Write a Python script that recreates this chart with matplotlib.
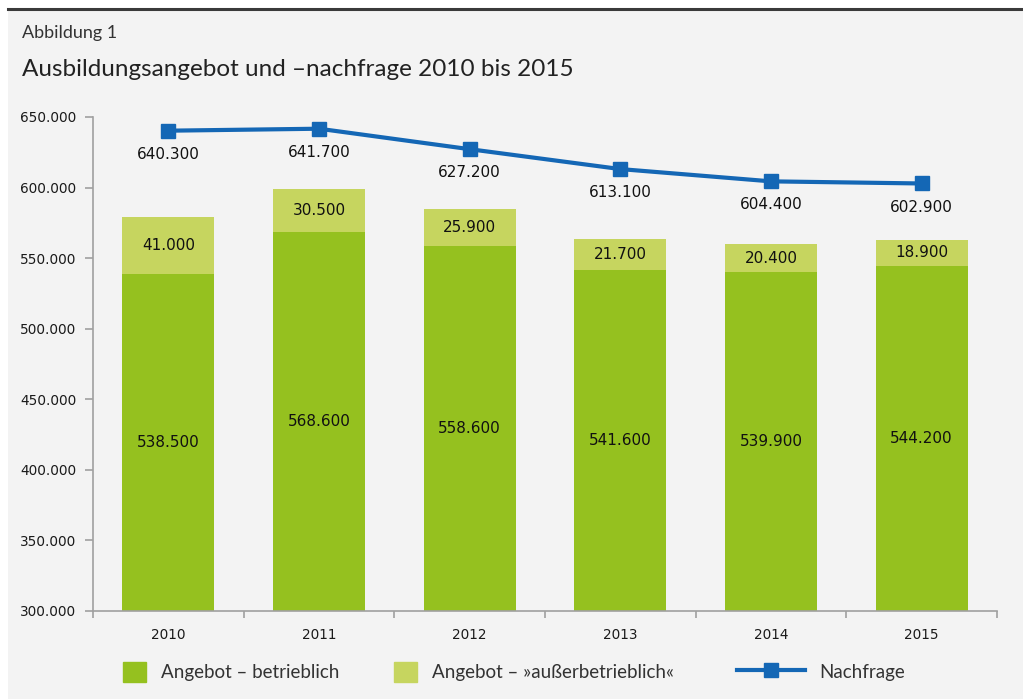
import matplotlib
matplotlib.use("Agg")
import matplotlib.pyplot as plt
from matplotlib.ticker import FuncFormatter
from matplotlib.patches import Rectangle
from matplotlib.lines import Line2D
import numpy as np

jahre = ["2010", "2011", "2012", "2013", "2014", "2015"]
betrieblich = [538500, 568600, 558600, 541600, 539900, 544200]
ausserbetrieblich = [41000, 30500, 25900, 21700, 20400, 18900]
nachfrage = [640300, 641700, 627200, 613100, 604400, 602900]

dunkelgruen = "#95c11f"
hellgruen = "#c6d55f"
blau = "#1467b5"
bg = "#f3f3f3"

def punkt(v, pos=None):
    return f"{int(round(v)):,}".replace(",", ".")

W, H = 1023, 699
fig = plt.figure(figsize=(10.23, 6.99), dpi=100)
fig.patch.set_facecolor("white")
# grauer Kasten und Linie oben
fig.add_artist(Rectangle((8/W, 0), 1, 1 - 11/H, transform=fig.transFigure,
                         facecolor=bg, edgecolor="none", zorder=-5))
fig.add_artist(Line2D([8/W, 1], [1 - 9/H, 1 - 9/H], color="#3a3a3a", lw=2.2))

fig.text(22/W, 1 - 33/H, "Abbildung 1", fontsize=13, family="Lato",
         color="#333333", va="center")
fig.text(22/W, 1 - 69/H, "Ausbildungsangebot und \u2013nachfrage 2010 bis 2015",
         fontsize=17.5, family="Lato", color="#222222", va="center")

ax = fig.add_axes([93/W, 1 - 611/H, (997 - 93)/W, (611 - 117)/H])
ax.set_facecolor(bg)
x = np.arange(len(jahre))
ax.bar(x, betrieblich, width=0.61, color=dunkelgruen, zorder=2)
ax.bar(x, ausserbetrieblich, bottom=betrieblich, width=0.61, color=hellgruen, zorder=2)
ax.plot(x, nachfrage, color=blau, lw=3, marker="s", markersize=10, zorder=3)

ax.set_ylim(300000, 650000)
ax.set_xlim(-0.5, len(jahre) - 0.5)
ax.set_yticks(np.arange(300000, 650001, 50000))
ax.yaxis.set_major_formatter(FuncFormatter(punkt))
ax.set_xticks(x)
ax.set_xticklabels(jahre)
ax.set_xticks(np.arange(-0.5, len(jahre)), minor=True)
ax.tick_params(axis="x", which="major", length=0, pad=12, labelsize=9.8, labelcolor="#1a1a1a")
ax.tick_params(axis="x", which="minor", length=5, color="#a0a0a0", width=1.2)
ax.tick_params(axis="y", length=6, color="#a0a0a0", width=1.2, labelsize=9.8,
               labelcolor="#1a1a1a", pad=6)
for s in ["top", "right"]:
    ax.spines[s].set_visible(False)
for s in ["left", "bottom"]:
    ax.spines[s].set_color("#a0a0a0")
    ax.spines[s].set_linewidth(1.2)

for i in range(len(jahre)):
    ax.text(x[i], 300000 + (betrieblich[i] - 300000) / 2, punkt(betrieblich[i]),
            ha="center", va="center", fontsize=11, color="#111111", zorder=4)
    ax.text(x[i], betrieblich[i] + ausserbetrieblich[i] / 2, punkt(ausserbetrieblich[i]),
            ha="center", va="center", fontsize=11, color="#111111", zorder=4)
    ax.annotate(punkt(nachfrage[i]), (x[i], nachfrage[i]), xytext=(0, -17),
                textcoords="offset points", ha="center", va="center",
                fontsize=11, color="#111111", zorder=4)

# Legende: drei Einträge einzeln platziert
ly = 1 - 672/H
fs = 13.5
eintraege = [
    (Rectangle((0, 0), 1, 1, color=dunkelgruen), "Angebot \u2013 betrieblich", 123, 1.22),
    (Rectangle((0, 0), 1, 1, color=hellgruen), "Angebot \u2013 \u00bbau\u00dferbetrieblich\u00ab", 394, 1.22),
    (Line2D([], [], color=blau, lw=3, marker="s", markersize=10), "Nachfrage", 737, 3.6),
]
for h, lab, xp, hl in eintraege:
    leg = fig.legend([h], [lab], loc="center left", bbox_to_anchor=(xp/W, ly),
                     frameon=False, prop={"family": "Lato", "size": fs},
                     handlelength=hl, handleheight=1.22, handletextpad=0.8,
                     borderpad=0, borderaxespad=0, labelcolor="#333333")

fig.savefig("out.png", dpi=100, facecolor=fig.get_facecolor())
